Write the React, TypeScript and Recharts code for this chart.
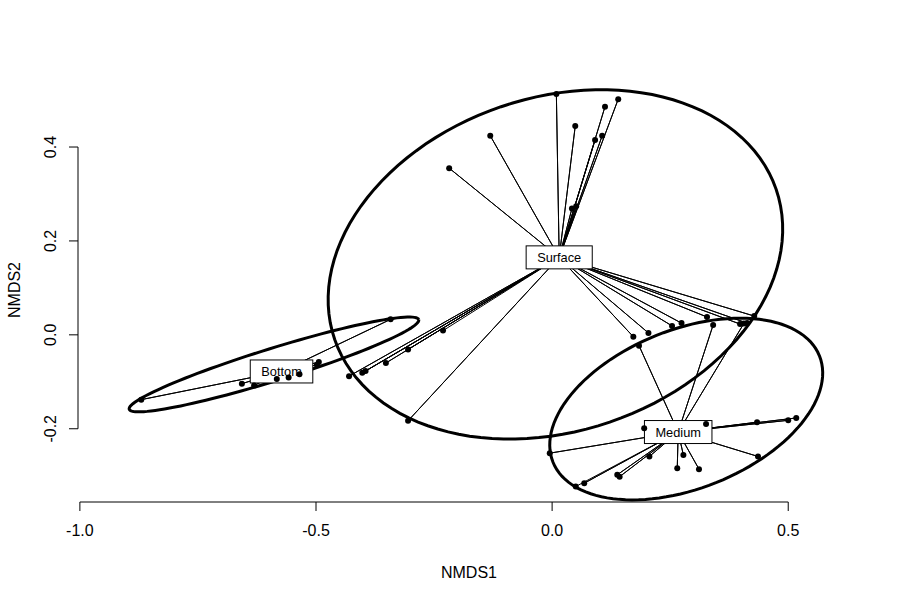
import { ScatterChart, Scatter, XAxis, YAxis, ReferenceLine } from 'recharts'

// NMDS site scores
const surfaceX = [0.009, 0.140, 0.112, 0.049, 0.091, 0.106, -0.131, -0.218, 0.042, 0.051, 0.172, 0.204, 0.254, 0.274, 0.328, 0.398, 0.413, 0.428, -0.305, -0.352, -0.395, -0.402, -0.430, -0.305, -0.231]
const surfaceY = [0.513, 0.502, 0.486, 0.445, 0.415, 0.424, 0.424, 0.355, 0.269, 0.274, -0.004, 0.004, 0.019, 0.025, 0.038, 0.023, 0.025, 0.040, -0.031, -0.060, -0.077, -0.081, -0.088, -0.183, 0.009]
const bottomX = [-0.342, -0.494, -0.498, -0.870, -0.657, -0.631, -0.583, -0.558, -0.535]
const bottomY = [0.033, -0.058, -0.064, -0.138, -0.104, -0.108, -0.094, -0.091, -0.084]
const mediumX = [0.184, 0.341, 0.406, 0.195, 0.326, 0.434, 0.500, 0.517, 0.436, -0.005, 0.206, 0.278, 0.265, 0.311, 0.138, 0.143, 0.068, 0.050]
const mediumY = [-0.023, 0.021, 0.024, -0.199, -0.190, -0.186, -0.182, -0.177, -0.259, -0.252, -0.259, -0.256, -0.284, -0.286, -0.298, -0.302, -0.316, -0.323]

const groupNames = ['Surface', 'Bottom', 'Medium']
const centroidX = [0.015, -0.573, 0.267]
const centroidY = [0.165, -0.078, -0.207]

// ordiellipse outlines: centre, semi-axes, rotation (degrees)
const ellipseCx = [0.007, -0.589, 0.284]
const ellipseCy = [0.150, -0.063, -0.158]
const ellipseA = [0.494, 0.321, 0.304]
const ellipseB = [0.355, 0.0345, 0.169]
const ellipseDeg = [18.9, 17.3, 21.9]

const xTicks = [-1, -0.5, 0, 0.5]
const yTicks = [-0.2, 0, 0.2, 0.4]

const FONT = '"Liberation Sans", Arial, Helvetica, sans-serif'
const PLOT_LEFT = 78
const PLOT_BOTTOM = 502
const X_DOMAIN: [number, number] = [-1.004, 0.652]
const Y_DOMAIN: [number, number] = [-0.356, 0.547]

const groupsX = [surfaceX, bottomX, mediumX]
const groupsY = [surfaceY, bottomY, mediumY]

const sites = groupsX.flatMap((xs, g) => xs.map((x, i) => ({ x, y: groupsY[g][i] })))

// centroid -> site -> centroid -> site ... so one polyline draws every spoke
const spiders = groupsX.map((xs, g) => {
  const c = { x: centroidX[g], y: centroidY[g] }
  return xs.flatMap((x, i) => [c, { x, y: groupsY[g][i] }])
})

const ellipses = ellipseCx.map((cx, g) => {
  const th = (ellipseDeg[g] * Math.PI) / 180
  const pts = []
  for (let i = 0; i <= 120; i++) {
    const t = (i / 120) * 2 * Math.PI
    const u = ellipseA[g] * Math.cos(t)
    const v = ellipseB[g] * Math.sin(t)
    pts.push({ x: cx + u * Math.cos(th) - v * Math.sin(th), y: ellipseCy[g] + u * Math.sin(th) + v * Math.cos(th) })
  }
  return pts
})

const labels = groupNames.map((name, g) => ({ x: centroidX[g], y: centroidY[g], name }))

let ctx: CanvasRenderingContext2D | null = null
function measure(s: string) {
  if (!ctx) ctx = document.createElement('canvas').getContext('2d')
  if (!ctx) return s.length * 7
  ctx.font = `12.8px ${FONT}`
  return ctx.measureText(s).width
}

const Nothing = () => <g />

const Dot = (p: any) => <circle cx={p.cx} cy={p.cy} r={3} fill="#000" />

const LabelBox = (p: any) => {
  const w = measure(p.payload.name) + 22
  return (
    <g>
      <rect x={p.cx - w / 2} y={p.cy - 11.5} width={w} height={23} fill="#fff" stroke="#000" strokeWidth={1} />
      <text x={p.cx} y={p.cy + 4.5} textAnchor="middle" fontSize={12.8} fontFamily={FONT} fill="#000">{p.payload.name}</text>
    </g>
  )
}

const XTick = (p: any) => (
  <g>
    <line x1={p.x} x2={p.x} y1={PLOT_BOTTOM} y2={PLOT_BOTTOM + 9} stroke="#000" />
    <text x={p.x} y={PLOT_BOTTOM + 34} textAnchor="middle" fontSize={16} fontFamily={FONT} fill="#000">{p.payload.value.toFixed(1)}</text>
  </g>
)

const YTick = (p: any) => (
  <g>
    <line x1={PLOT_LEFT - 9} x2={PLOT_LEFT} y1={p.y} y2={p.y} stroke="#000" />
    <text x={PLOT_LEFT - 22} y={p.y} transform={`rotate(-90, ${PLOT_LEFT - 22}, ${p.y})`} textAnchor="middle" fontSize={16} fontFamily={FONT} fill="#000">{p.payload.value.toFixed(1)}</text>
  </g>
)

export default function App() {
  return (
    <div style={{ position: 'absolute', left: 0, top: 0, width: 900, height: 600, background: '#fff' }}>
      <ScatterChart width={900} height={600} margin={{ top: 78, right: 40, left: 0, bottom: 0 }}>
        <XAxis type="number" dataKey="x" domain={X_DOMAIN} ticks={xTicks} interval={0} height={98} axisLine={false} tickLine={false} tick={XTick} />
        <YAxis type="number" dataKey="y" domain={Y_DOMAIN} ticks={yTicks} interval={0} width={78} axisLine={false} tickLine={false} tick={YTick} />
        <ReferenceLine segment={[{ x: -1, y: Y_DOMAIN[0] }, { x: 0.5, y: Y_DOMAIN[0] }]} stroke="#000" ifOverflow="visible" />
        <ReferenceLine segment={[{ x: X_DOMAIN[0], y: -0.2 }, { x: X_DOMAIN[0], y: 0.4 }]} stroke="#000" ifOverflow="visible" />
        {ellipses.map((pts, g) => (
          <Scatter key={`e${g}`} data={pts} shape={Nothing} line={{ stroke: '#000', strokeWidth: 3 }} isAnimationActive={false} />
        ))}
        {spiders.map((pts, g) => (
          <Scatter key={`s${g}`} data={pts} shape={Nothing} line={{ stroke: '#000', strokeWidth: 1 }} isAnimationActive={false} />
        ))}
        <Scatter data={labels} shape={LabelBox} isAnimationActive={false} />
        <Scatter data={sites} shape={Dot} isAnimationActive={false} />
      </ScatterChart>
      <svg width={900} height={600} style={{ position: 'absolute', left: 0, top: 0, pointerEvents: 'none' }}>
        <text x={469} y={578} textAnchor="middle" fontSize={16} fontFamily={FONT} fill="#000">NMDS1</text>
        <text x={20} y={290} transform="rotate(-90, 20, 290)" textAnchor="middle" fontSize={16} fontFamily={FONT} fill="#000">NMDS2</text>
      </svg>
    </div>
  )
}
